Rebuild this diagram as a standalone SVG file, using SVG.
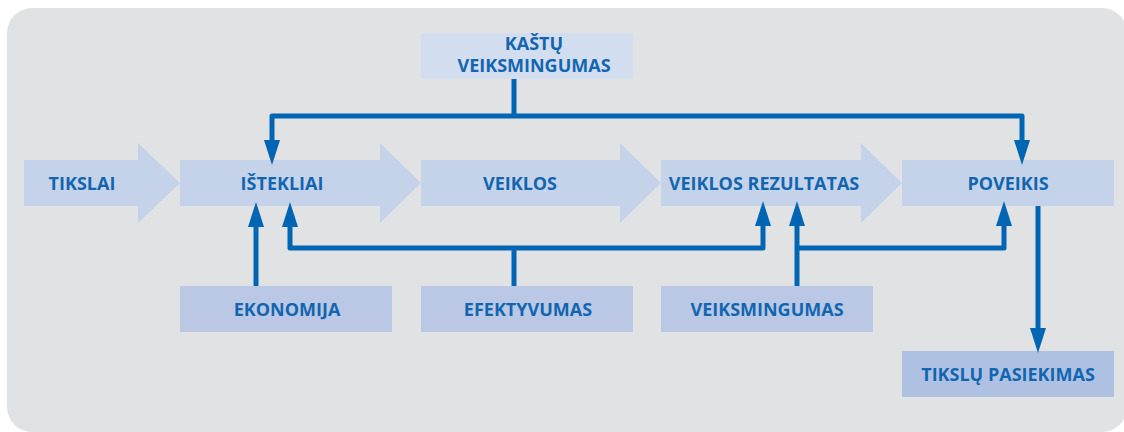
<svg xmlns="http://www.w3.org/2000/svg" width="1124" height="432" viewBox="0 0 1124 432">
  <defs>
    <style>
      .lbl { font-family: "Open Sans", "Liberation Sans", sans-serif; font-weight: 700; font-size: 18px; fill: #1266b0; text-anchor: middle; }
      .flow { fill: #c5d3ea; }
      .box { fill: #bac8e5; }
      .cost { fill: #d3ddf0; }
      .goal { fill: #afc1e3; }
      .wire { fill: none; stroke: #0066b3; stroke-width: 5; stroke-linejoin: round; }
      .arr { marker-end: url(#head); }
    </style>
    <marker id="head" markerUnits="userSpaceOnUse" markerWidth="25" markerHeight="16" refX="0" refY="8" orient="auto">
      <path d="M0,0 L25,8 L0,16 Z" fill="#0066b3"/>
    </marker>
  </defs>

  <!-- panel -->
  <rect x="7" y="8" width="1120" height="424" rx="25" ry="25" fill="#e1e2e4"/>

  <!-- main flow -->
  <g id="tikslai">
    <polygon class="flow" points="24,160 138,160 138,143 180,183 138,223 138,206 24,206"/>
    <text class="lbl" x="82" y="190">TIKSLAI</text>
  </g>
  <g id="istekliai">
    <polygon class="flow" points="180,160 380,160 380,143 421,183 380,223 380,206 180,206"/>
    <text class="lbl" x="282" y="190">IŠTEKLIAI</text>
  </g>
  <g id="veiklos">
    <polygon class="flow" points="421,160 620,160 620,143 661,183 620,223 620,206 421,206"/>
    <text class="lbl" x="520" y="190">VEIKLOS</text>
  </g>
  <g id="rezultatas">
    <polygon class="flow" points="661,160 861,160 861,143 902,183 861,223 861,206 661,206"/>
    <text class="lbl" x="764" y="190">VEIKLOS REZULTATAS</text>
  </g>
  <g id="poveikis">
    <rect class="flow" x="902" y="160" width="212" height="46"/>
    <text class="lbl" x="1008" y="190">POVEIKIS</text>
  </g>

  <!-- measures -->
  <g id="kastu">
    <rect class="cost" x="421" y="33" width="212" height="46"/>
    <text class="lbl" x="534" y="50">KAŠTŲ</text>
    <text class="lbl" x="534" y="72">VEIKSMINGUMAS</text>
  </g>
  <g id="ekonomija">
    <rect class="box" x="180" y="286" width="212" height="46"/>
    <text class="lbl" x="287" y="316">EKONOMIJA</text>
  </g>
  <g id="efektyvumas">
    <rect class="box" x="421" y="286" width="212" height="46"/>
    <text class="lbl" x="528" y="316">EFEKTYVUMAS</text>
  </g>
  <g id="veiksmingumas">
    <rect class="box" x="661" y="286" width="212" height="46"/>
    <text class="lbl" x="767" y="316">VEIKSMINGUMAS</text>
  </g>
  <g id="pasiekimas">
    <rect class="goal" x="902" y="351" width="212" height="46"/>
    <text class="lbl" x="1008" y="381">TIKSLŲ PASIEKIMAS</text>
  </g>

  <!-- connectors -->
  <g id="connectors">
    <path class="wire" d="M514,79 V116"/>
    <path class="wire arr" d="M514,116 H272 V140"/>
    <path class="wire arr" d="M514,116 H1022 V140"/>

    <path class="wire arr" d="M256,286 V227"/>

    <path class="wire" d="M514,286 V248"/>
    <path class="wire arr" d="M514,248 H290 V227"/>
    <path class="wire arr" d="M514,248 H763 V226"/>

    <path class="wire arr" d="M797,286 V226"/>
    <path class="wire arr" d="M797,248 H1004 V226"/>

    <path class="wire arr" d="M1038,206 V328"/>
  </g>
</svg>
